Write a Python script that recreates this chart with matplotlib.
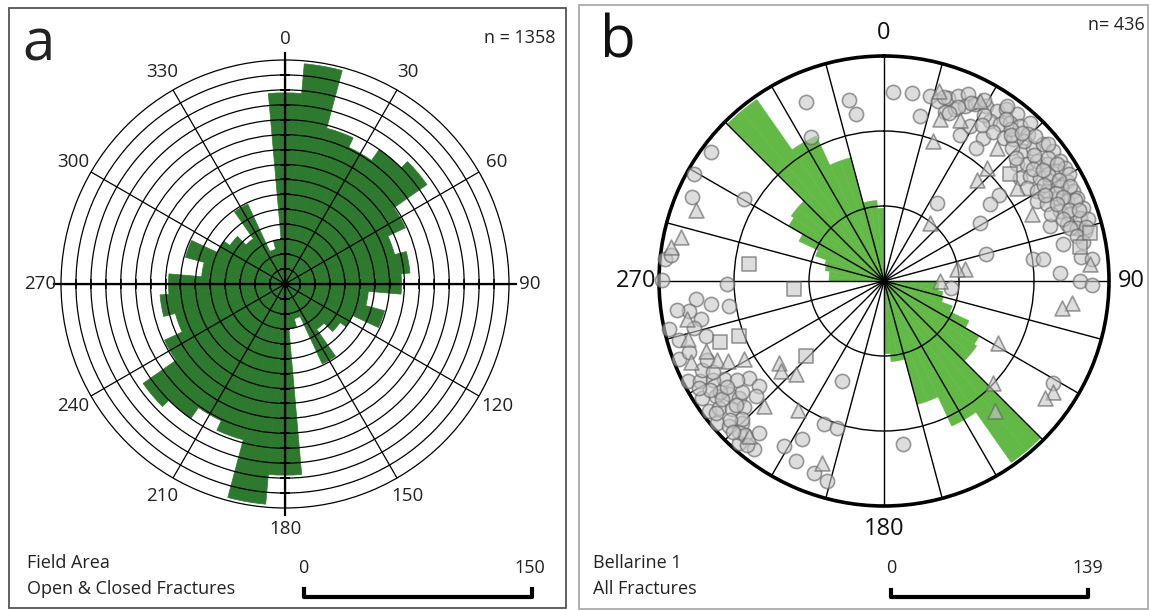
import numpy as np
import matplotlib.pyplot as plt
from matplotlib.lines import Line2D
from matplotlib.patches import Rectangle

plt.rcParams['font.family'] = ['Open Sans', 'DejaVu Sans']

W, H = 1151, 610

# panel a: bidirectional rose, 10 deg bins centred on 0..170 (mirrored to 180..350)
a_bins = np.arange(0, 180, 10)
a_counts = [128, 148, 108, 101, 110, 116, 89, 76, 84, 78, 56, 69, 50, 45, 37, 59, 24, 30]
a_scale = 150
a_labels = ['Field Area', 'Open & Closed Fractures']
a_n = 'n = 1358'

# panel b: bidirectional rose, 5 deg bins starting at 0..175
b_bins = np.arange(0, 180, 5)
b_counts = [0] * 18 + [34, 34, 37, 38, 45, 58, 68, 70, 70,
                       137, 137, 99, 99, 79, 79, 50, 50, 45]
b_scale = 139
b_labels = ['Bellarine 1', 'All Fractures']
b_n = 'n= 436'

# poles (azimuth deg, radius as fraction of outer circle)
b_circles = [
    (2.6, .84), (8.4, .846), (14, .847), (12.3, .75), (27.4, .73),
    (16.8, .835), (19.3, .864), (21.9, .886), (24.3, .91), (19.7, .80), (22.5, .826),
    (24.8, .857), (27.3, .883), (30.4, .90), (33.5, .906), (35.5, .937), (38.5, .947),
    (33.5, .853), (36.5, .866), (38.5, .90), (41.3, .917), (42.7, .957), (34.7, .775),
    (36.4, .82), (39.8, .83), (42.4, .853), (34.8, .72), (44.5, .915), (47, .847),
    (48.2, .89), (49.4, .933), (52.5, .949), (55.7, .947), (48.7, .785), (50.7, .82),
    (51.8, .863), (54.4, .89), (57.5, .91), (52.8, .759), (54.3, .80), (56.5, .832),
    (58.9, .861), (61.3, .925), (56.8, .757), (59.5, .787), (61, .826), (64.6, .932),
    (64.2, .852), (66.3, .886), (66.6, .933), (69.8, .944), (68.3, .842), (70.3, .878),
    (72.1, .915), (62.3, .766), (64.8, .80), (71.7, .777), (72.8, .85), (74.5, .889),
    (78.4, .813), (87.3, .783), (90, .871), (91, .923), (81.7, .67), (82.3, .715),
    (45, .88), (46, .93), (58, .95), (62, .89), (67, .92), (68, .80), (73, .95),
    (76, .92), (44, .82), (40, .88), (31, .86), (26, .88), (29, .79), (53, .91),
    (57, .87), (63, .86), (60, .95),
    (35, .95), (37, .90), (41, .86), (43, .90), (47, .80), (50, .87), (50, .95),
    (53, .83), (55, .86), (56, .93), (59, .83), (60, .90), (62, .81), (63, .93),
    (65, .88), (66, .84), (69, .88), (70, .92), (71, .84), (74, .86), (75, .93),
    (77, .88), (79, .90), (83, .88), (84, .93), (23, .84), (21, .80), (18, .86),
    (29, .92), (32, .82),
    (53.2, .64), (54.1, .58), (33.9, .42), (58.7, .50), (75.4, .47), (95.6, .30),
    (121, .878), (173.2, .73),
    (336.4, .868), (349, .818), (350.4, .754), (333, .718), (306.7, .96), (299.5, .97),
    (300.5, .72), (293.7, .93), (275.8, .98), (277, .955), (270.3, .985), (269, .696),
    (264.4, .84), (262.3, .777), (260.8, .70), (261.3, .877), (258.2, .832), (257.3, .98),
    (252.9, .83), (249.1, .975), (243, .98), (241.4, .93), (238.4, .835), (234.4, .74),
    (230, .725), (237.3, .96), (235.7, .906), (233.8, .853), (231.2, .827), (228.1, .766),
    (233.4, .97), (232.5, .924), (229.8, .883), (229.6, .972), (226.9, .943), (225, .89),
    (219.5, .874), (221.9, .965), (217.7, .946), (202.6, .48), (202.7, .69), (197.7, .684),
    (207.3, .79), (211.2, .857), (206.1, .89), (200.1, .907), (195.8, .924),
    (236, .88), (240, .88), (232, .80), (228, .84), (224, .93), (236, .79), (244, .90),
    (246, .86), (254, .95), (222, .92),
    (232, .95), (234, .89), (238, .91), (226, .88), (230, .86), (236, .84), (240, .95),
    (242, .86), (228, .92), (220, .95), (225, .95), (250, .92), (256, .87), (262, .93),
]
b_triangles = [
    (16, .88), (19.4, .66), (19.1, .76), (25.2, .79), (28.1, .906), (40.2, .776),
    (54.9, .72), (65.7, .72), (85.4, .918), (42.2, .68), (42.4, .61), (38.3, .33),
    (81.8, .364), (90, .249), (80.8, .33), (96.6, .84), (98.5, .80), (118.3, .577),
    (132.9, .663), (139.5, .76), (123.4, .90), (125.9, .884),
    (290.6, .894), (282.2, .925), (279, .96),
    (259, .89), (253.5, .91), (248.6, .85), (247.1, .93), (244.8, .82), (242.9, .78),
    (240.8, .713), (232, .59), (228.9, .61), (223.4, .57), (223.8, .77), (221, .913),
    (213.7, .69), (198.7, .853),
]
b_squares = [
    (49.7, .734), (76.8, .94), (80.3, .884), (277.3, .605), (265, .40),
    (249.2, .69), (249.5, .78), (226.2, .48),
]

fig = plt.figure(figsize=(W / 100, H / 100), dpi=100)


def fx(x):
    return x / W


def fy(y):
    return 1 - y / H


def polar_at(cx, cy, r):
    ax = fig.add_axes([fx(cx - r), fy(cy + r), 2 * r / W, 2 * r / H], projection='polar')
    ax.set_theta_zero_location('N')
    ax.set_theta_direction(-1)
    ax.set_xticklabels([])
    ax.set_yticklabels([])
    ax.set_axisbelow(False)
    return ax


# ---------- panel a ----------
fig.add_artist(Rectangle((fx(9), fy(608)), (566 - 9) / W, (608 - 8) / H,
                         transform=fig.transFigure, fill=False, ec='#555555', lw=1.3))
axa = polar_at(285, 284, 224)
theta_a = np.deg2rad(np.concatenate([a_bins, a_bins + 180]))
axa.bar(theta_a, a_counts + a_counts, width=np.deg2rad(10), color='#2d7a2e',
        edgecolor='#2d7a2e', lw=0.5, zorder=1)
axa.set_ylim(0, a_scale)
axa.set_yticks(np.arange(10, a_scale, 10))
axa.set_xticks(np.deg2rad(np.arange(0, 360, 30)))
axa.grid(True, color='k', lw=0.9)
axa.spines['polar'].set_linewidth(0.9)
for ang in [0, 90, 180, 270]:
    axa.plot([np.deg2rad(ang)] * 2, [0, 155], color='k', lw=1.6, clip_on=False, zorder=3)
    mk = '_' if ang in (0, 180) else '|'
    axa.plot([np.deg2rad(ang)] * 14, np.arange(10, a_scale, 10), ls='none', marker=mk,
             ms=7, mew=1.1, color='k', zorder=3)
axa.plot(0, 0, 'o', color='k', ms=4, zorder=4)
for ang in range(0, 360, 30):
    axa.text(np.deg2rad(ang), 164, str(ang), ha='center', va='center', fontsize=13.5,
             color='#222222')

fig.text(fx(22), fy(45), 'a', fontsize=42, ha='left', va='center', color='#222222')
fig.text(fx(555), fy(38), a_n, fontsize=13, ha='right', va='center', color='#222222')
fig.text(fx(27), fy(563), a_labels[0], fontsize=13, ha='left', va='center', color='#222222')
fig.text(fx(27), fy(589), a_labels[1], fontsize=13, ha='left', va='center', color='#222222')
fig.text(fx(303), fy(568), '0', fontsize=13, ha='center', va='center', color='#222222')
fig.text(fx(530), fy(568), str(a_scale), fontsize=13, ha='center', va='center', color='#222222')
fig.add_artist(Line2D([fx(304), fx(304), fx(532), fx(532)], [fy(589), fy(597), fy(597), fy(589)],
                      transform=fig.transFigure, color='k', lw=3))

# ---------- panel b ----------
fig.add_artist(Rectangle((fx(579), fy(609)), (1148 - 579) / W, (609 - 5) / H,
                         transform=fig.transFigure, fill=False, ec='#aaaaaa', lw=1.3))
axb = polar_at(884, 281, 225)
theta_b = np.deg2rad(np.concatenate([b_bins, b_bins + 180]))
axb.bar(theta_b, b_counts + b_counts, width=np.deg2rad(5), align='edge', color='#62b946',
        edgecolor='#62b946', lw=0.3, zorder=1)
axb.set_ylim(0, b_scale)
axb.set_yticks([b_scale / 3, 2 * b_scale / 3])
axb.set_xticks(np.deg2rad(np.arange(0, 360, 15)))
axb.grid(True, color='k', lw=1.0)
axb.spines['polar'].set_linewidth(2.6)
axb.plot(0, 0, 'o', color='k', ms=4, zorder=4)

pt_face = (0.78, 0.78, 0.78, 0.6)
pt_edge = (0.40, 0.40, 0.40, 0.65)
for pts, mk, sz in [(b_circles, 'o', 105), (b_triangles, '^', 115), (b_squares, 's', 100)]:
    az = np.deg2rad([p[0] for p in pts])
    rr = np.array([p[1] for p in pts]) * b_scale
    axb.scatter(az, rr, s=sz, marker=mk, facecolor=pt_face, edgecolor=pt_edge, lw=1.2,
                zorder=5, clip_on=False)

for ang in [0, 90, 180, 270]:
    axb.text(np.deg2rad(ang), 153, str(ang), ha='center', va='center', fontsize=17,
             color='#111111')

fig.text(fx(600), fy(42), 'b', fontsize=42, ha='left', va='center', color='#111111')
fig.text(fx(1145), fy(25), b_n, fontsize=13, ha='right', va='center', color='#222222')
fig.text(fx(593), fy(563), b_labels[0], fontsize=13, ha='left', va='center', color='#222222')
fig.text(fx(593), fy(589), b_labels[1], fontsize=13, ha='left', va='center', color='#222222')
fig.text(fx(891), fy(568), '0', fontsize=13, ha='center', va='center', color='#222222')
fig.text(fx(1088), fy(568), str(b_scale), fontsize=13, ha='center', va='center', color='#222222')
fig.add_artist(Line2D([fx(891), fx(891), fx(1088), fx(1088)], [fy(590), fy(597), fy(597), fy(590)],
                      transform=fig.transFigure, color='k', lw=3))

fig.savefig('out.png', dpi=100)
